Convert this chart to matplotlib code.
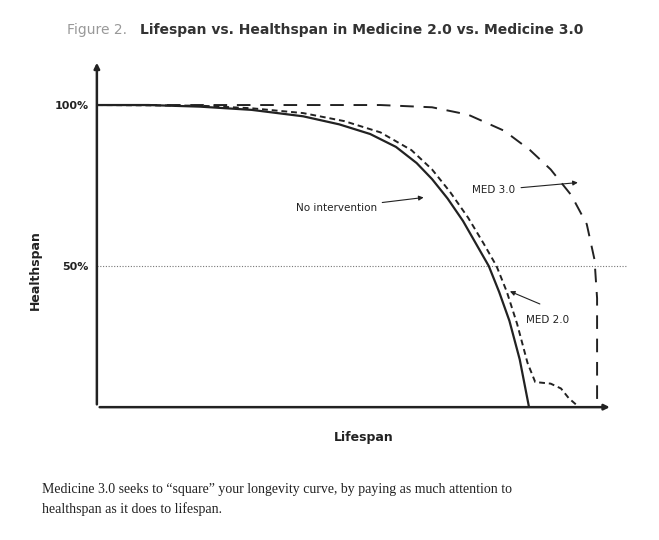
import matplotlib
matplotlib.use("Agg")
import matplotlib.pyplot as plt

# curves (lifespan %, healthspan %)
none_x = [0, 10, 20, 30, 40, 47, 53, 58, 62, 65, 68, 71, 73.5, 76, 78, 80, 82, 83.8]
none_y = [100, 100, 99.5, 98.5, 96.5, 94, 91, 87, 82, 77, 71, 64, 57, 50, 42, 33, 21, 6.2]
med2_x = [0, 20, 30, 40, 48, 55, 61, 65, 68.5, 72, 75, 77.5, 79.5, 81.5, 83.5, 85, 88, 90, 91.5, 93.5]
med2_y = [100, 99.8, 99, 97.5, 95, 91.5, 86, 80, 73, 65, 57, 50, 42, 32, 20, 14, 13.5, 12, 9, 6.2]
med3_x = [0, 30, 55, 65, 72, 79, 84, 88, 92, 95, 96.5, 97, 97]
med3_y = [100, 100, 100, 99.3, 97, 92, 86, 80, 72, 63, 52, 40, 6.2]
ytick_vals = [100, 50]
ytick_labels = ["100%", "50%"]

ink = "#222222"
fig = plt.figure(figsize=(6.59, 5.40), dpi=100)
ax = fig.add_axes([0.147, 0.246, 0.806, 0.643])
ax.set_xlim(0, 103)
ax.set_ylim(6.2, 114)
for s in ax.spines.values():
    s.set_visible(False)
ax.set_xticks([])
ax.set_yticks(ytick_vals)
ax.set_yticklabels(ytick_labels, fontsize=8, fontweight="bold", color=ink)
ax.tick_params(axis="y", length=0, pad=6)

# axes with arrows
ax.annotate("", xy=(100, 6.2), xytext=(0, 6.2),
            arrowprops=dict(arrowstyle="-|>", color=ink, lw=1.8, mutation_scale=8))
ax.annotate("", xy=(0, 114), xytext=(0, 6.2),
            arrowprops=dict(arrowstyle="-|>", color=ink, lw=1.8, mutation_scale=8))
ax.plot([0, 103], [50, 50], color="#777777", lw=0.8, ls=(0, (1, 1.5)))

ax.plot(none_x, none_y, color=ink, lw=1.6)
ax.plot(med2_x, med2_y, color=ink, lw=1.4, ls=(0, (3, 2)))
ax.plot(med3_x, med3_y, color=ink, lw=1.4, ls=(0, (7, 5)))

arrow = dict(arrowstyle="-|>", color=ink, lw=0.8, mutation_scale=7)
ax.annotate("No intervention", xy=(63.9, 71.4), xytext=(46.4, 68), fontsize=7.5,
            ha="center", va="center", color=ink, arrowprops=arrow)
ax.annotate("MED 3.0", xy=(93.8, 76), xytext=(77, 73.6), fontsize=7.5,
            ha="center", va="center", color=ink, arrowprops=arrow)
ax.annotate("", xy=(79.6, 42.5), xytext=(86.4, 37.9), arrowprops=arrow)
ax.text(87.3, 33.2, "MED 2.0", fontsize=7.5, ha="center", va="center", color=ink)

fig.text(0.101, 0.945, "Figure 2.", fontsize=10, color="#999999", ha="left", va="center")
fig.text(0.212, 0.945, "Lifespan vs. Healthspan in Medicine 2.0 vs. Medicine 3.0",
         fontsize=10, fontweight="bold", color="#333333", ha="left", va="center")
fig.text(0.552, 0.19, "Lifespan", fontsize=9, fontweight="bold", color=ink, ha="center", va="center")
fig.text(0.053, 0.50, "Healthspan", fontsize=9, fontweight="bold", color=ink,
         rotation=90, ha="center", va="center")
fig.text(0.064, 0.075, "Medicine 3.0 seeks to \u201csquare\u201d your longevity curve, by paying as much attention to\n"
         "healthspan as it does to lifespan.", fontsize=10, family="Liberation Serif",
         color=ink, ha="left", va="center", linespacing=1.5)

fig.savefig("out.png", dpi=100, facecolor="white")
